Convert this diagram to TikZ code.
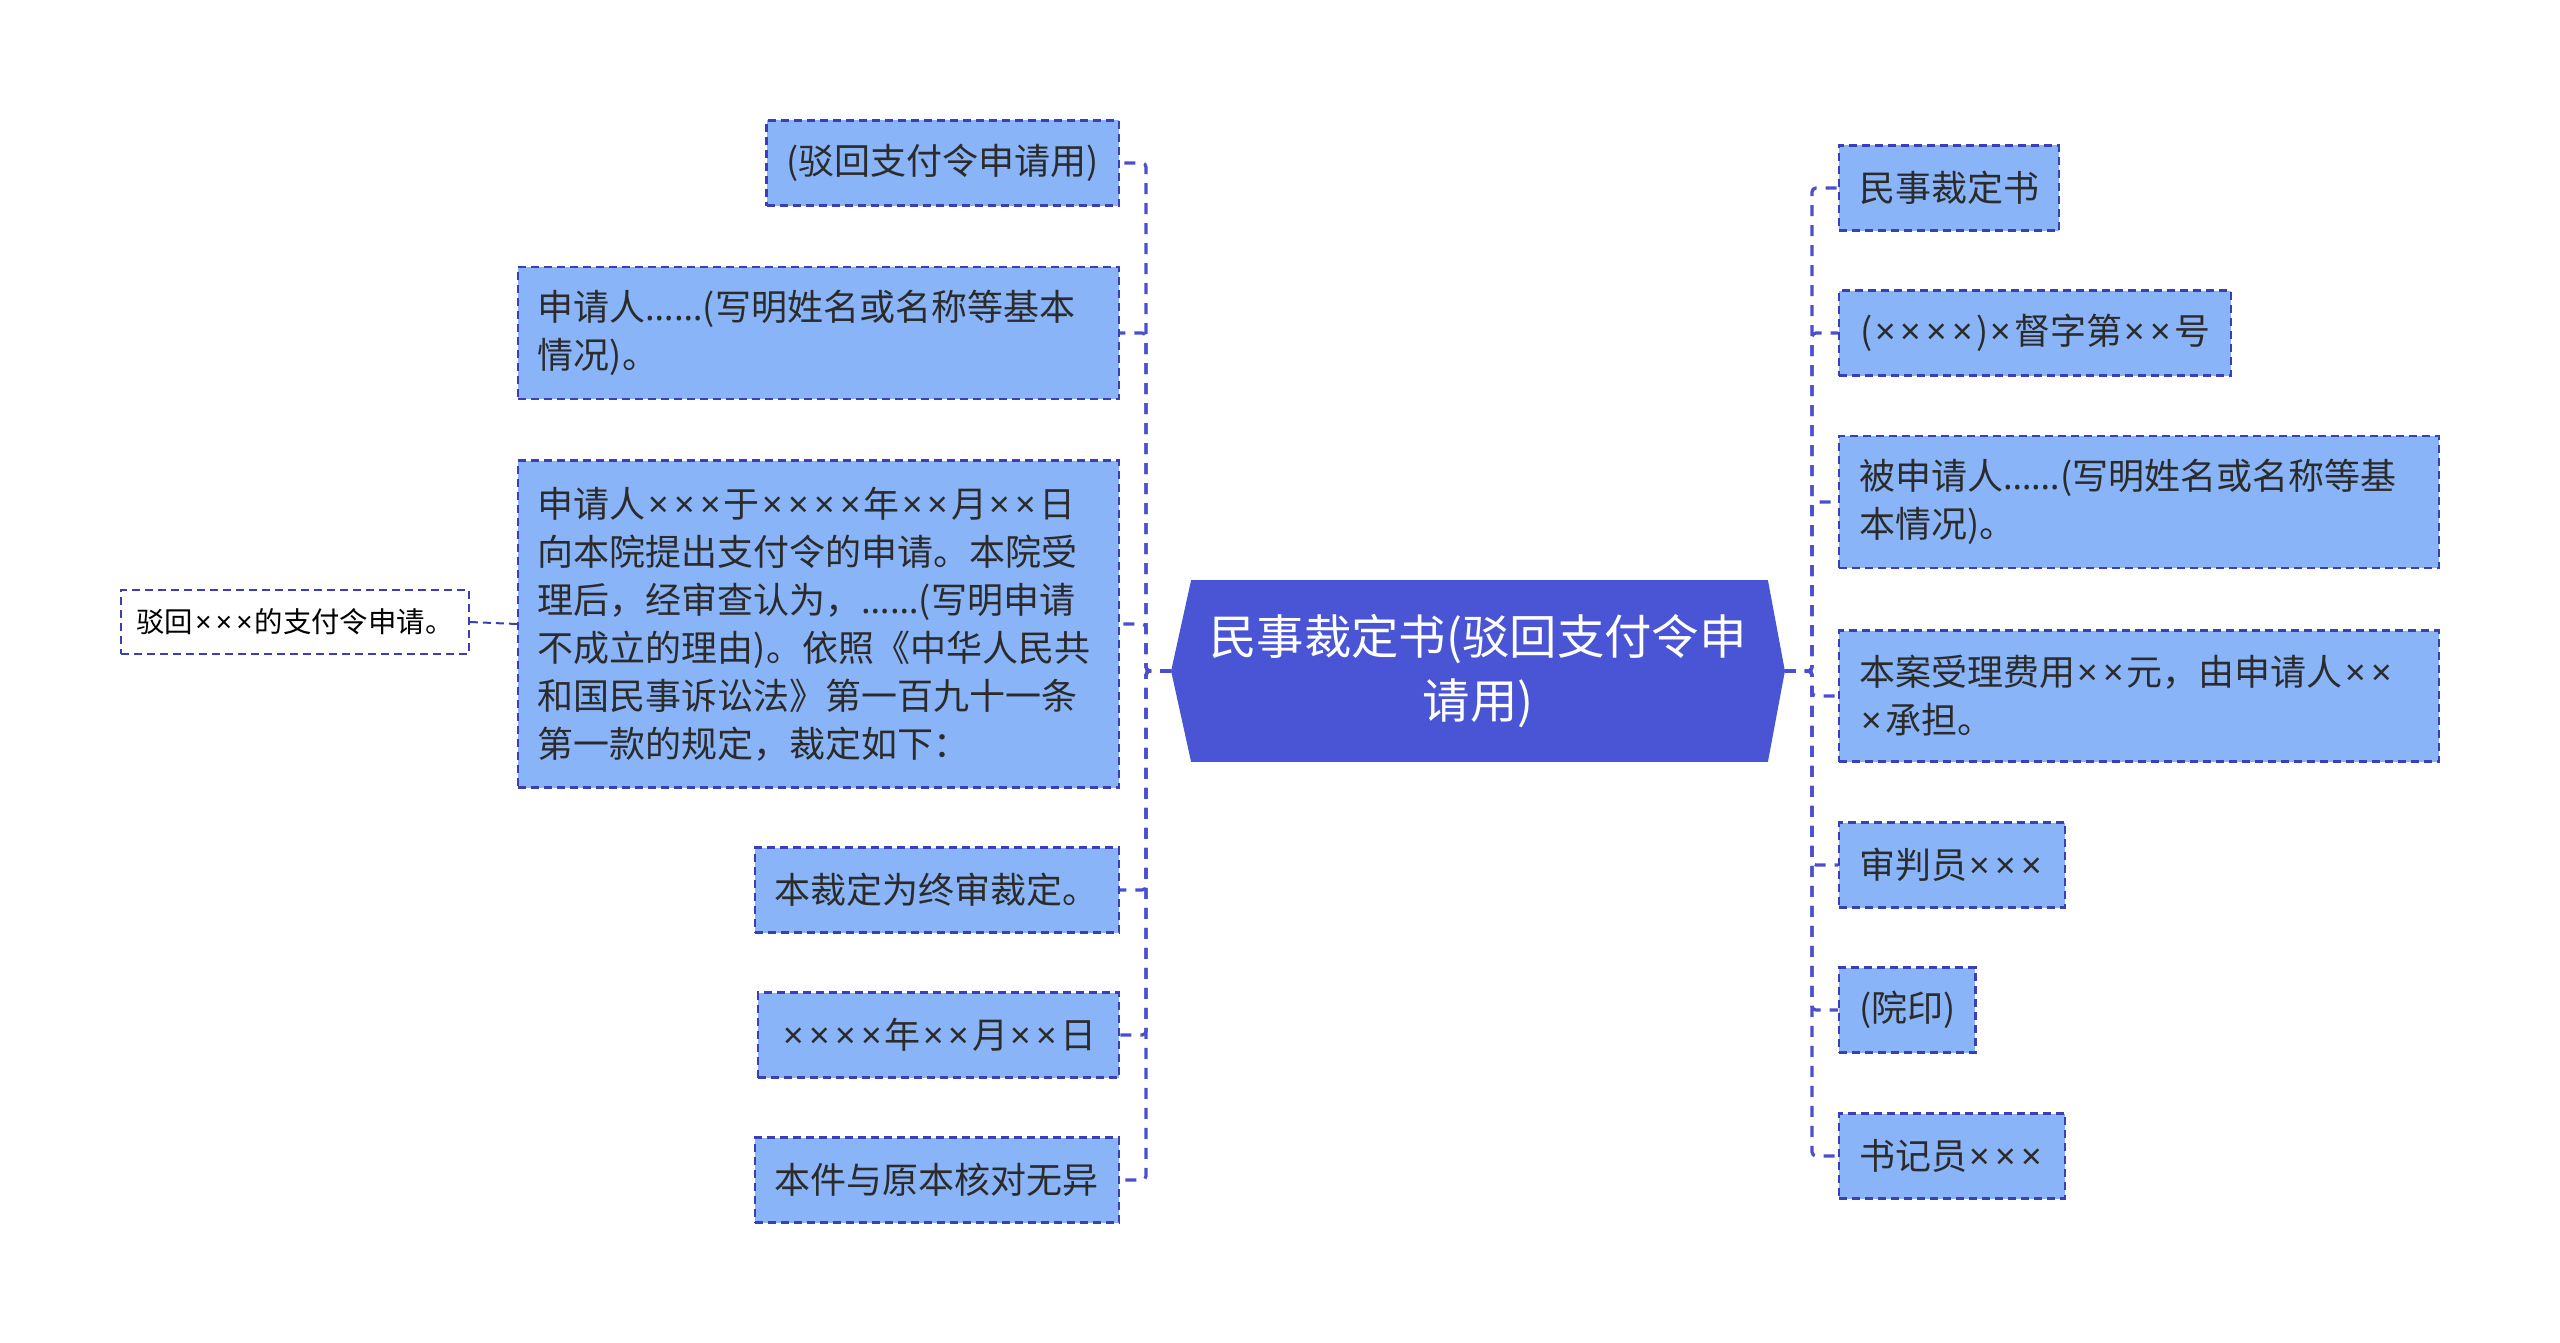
\documentclass[tikz,border=0pt]{standalone}
\usepackage{fontspec}
\setmainfont{Noto Sans CJK SC}
\newfontfamily\latinf{Noto Sans}
\newcommand\xx{\makebox[0.72em]{\latinf ×}}
\newcommand\myell{{\latinf ……}}
\usetikzlibrary{calc,backgrounds}
\definecolor{boxfill}{HTML}{8AB4F8}
\definecolor{boxline}{HTML}{3A3FB5}
\definecolor{linkc}{HTML}{4B4FCF}
\definecolor{mainfill}{HTML}{4A55D6}
\definecolor{txt}{HTML}{2B2B2B}
\begin{document}
\begin{tikzpicture}[x=0.5pt,y=-0.5pt,
 box/.style={draw=boxline, fill=boxfill, line width=1.1pt, dash pattern=on 4pt off 2.5pt, text=txt,
   font=\fontsize{18}{24}\selectfont, inner xsep=10pt, inner ysep=0pt, minimum height=42.5pt},
 multi/.style={box, align=left},
 link/.style={draw=linkc, line width=1.6pt, dash pattern=on 5.5pt off 4.5pt, rounded corners=2pt},
 leafbox/.style={draw=boxline, fill=white, line width=0.9pt, dash pattern=on 4pt off 2.5pt, text=black,
   font=\fontsize{14.2}{17}\selectfont, minimum width=174pt, minimum height=32pt, inner sep=0pt},
 mainnode/.style={minimum width=306.5pt, minimum height=90.5pt, inner sep=0pt, text=white,
   font=\fontsize{23.7}{32}\selectfont, align=center}]
\useasboundingbox (0,0) rectangle (2560,1343);

% central node
\node[mainnode] (C) at (1478,671) {民事裁定书(驳回支付令申\\请用)};
\begin{scope}[on background layer]
\fill[white] (0,0) rectangle (2560,1343);
\fill[mainfill] (C.west) -- ($(C.north west)+(20,0)$) -- ($(C.north east)+(-17,0)$) -- (C.east)
  -- ($(C.south east)+(-17,0)$) -- ($(C.south west)+(20,0)$) -- cycle;
\end{scope}

% left nodes
\node[box, anchor=east, minimum width=175.5pt] (L1) at (1120,163) {(驳回支付令申请用)};
\node[multi, anchor=east, text width=280.5pt, minimum height=66pt] (L2) at (1120,333)
  {申请人\myell(写明姓名或名称等基本\\情况)。};
\node[multi, anchor=east, text width=280.5pt, minimum height=163.5pt] (L3) at (1120,624)
  {申请人\xx\xx\xx 于\xx\xx\xx\xx 年\xx\xx 月\xx\xx 日\\向本院提出支付令的申请。本院受\\理后，经审查认为，\myell(写明申请\\不成立的理由)。依照《中华人民共\\和国民事诉讼法》第一百九十一条\\第一款的规定，裁定如下：};
\node[box, anchor=east, minimum width=182pt] (L4) at (1120,890) {本裁定为终审裁定。};
\node[box, anchor=east, minimum width=180.5pt] (L5) at (1120,1035) {\xx\xx\xx\xx 年\xx\xx 月\xx\xx 日};
\node[box, anchor=east, minimum width=182pt] (L6) at (1120,1180) {本件与原本核对无异};
\node[leafbox] (Leaf) at (295,622) {驳回\xx\xx\xx 的支付令申请。};

% right nodes
\node[box, anchor=west, minimum width=108pt] (R1) at (1838,188) {民事裁定书};
\node[box, anchor=west, minimum width=196pt] (R2) at (1838,333) {(\xx\xx\xx\xx)\xx 督字第\xx\xx 号};
\node[multi, anchor=west, text width=280pt, minimum height=66pt] (R3) at (1838,502)
  {被申请人\myell(写明姓名或名称等基\\本情况)。};
\node[multi, anchor=west, text width=280pt, minimum height=65.5pt] (R4) at (1838,696)
  {本案受理费用\xx\xx 元，由申请人\xx\xx\\\xx 承担。};
\node[box, anchor=west, minimum width=112pt] (R5) at (1838,865) {审判员\xx\xx\xx};
\node[box, anchor=west, minimum width=66.5pt] (R6) at (1838,1010) {(院印)};
\node[box, anchor=west, minimum width=112pt] (R7) at (1838,1156) {书记员\xx\xx\xx};

% connectors
\coordinate (TL) at (1146,671);
\coordinate (TR) at (1812,671);
\foreach \n in {L1,L2,L3,L4,L5,L6}
  \draw[link] (C.west) -- (TL) |- (\n.east);
\foreach \n in {R1,R2,R3,R4,R5,R6,R7}
  \draw[link] (C.east) -- (TR) |- (\n.west);
\draw[draw=boxline, line width=1pt, dash pattern=on 4pt off 2.5pt] (L3.west) -- (Leaf.east);
\end{tikzpicture}
\end{document}
